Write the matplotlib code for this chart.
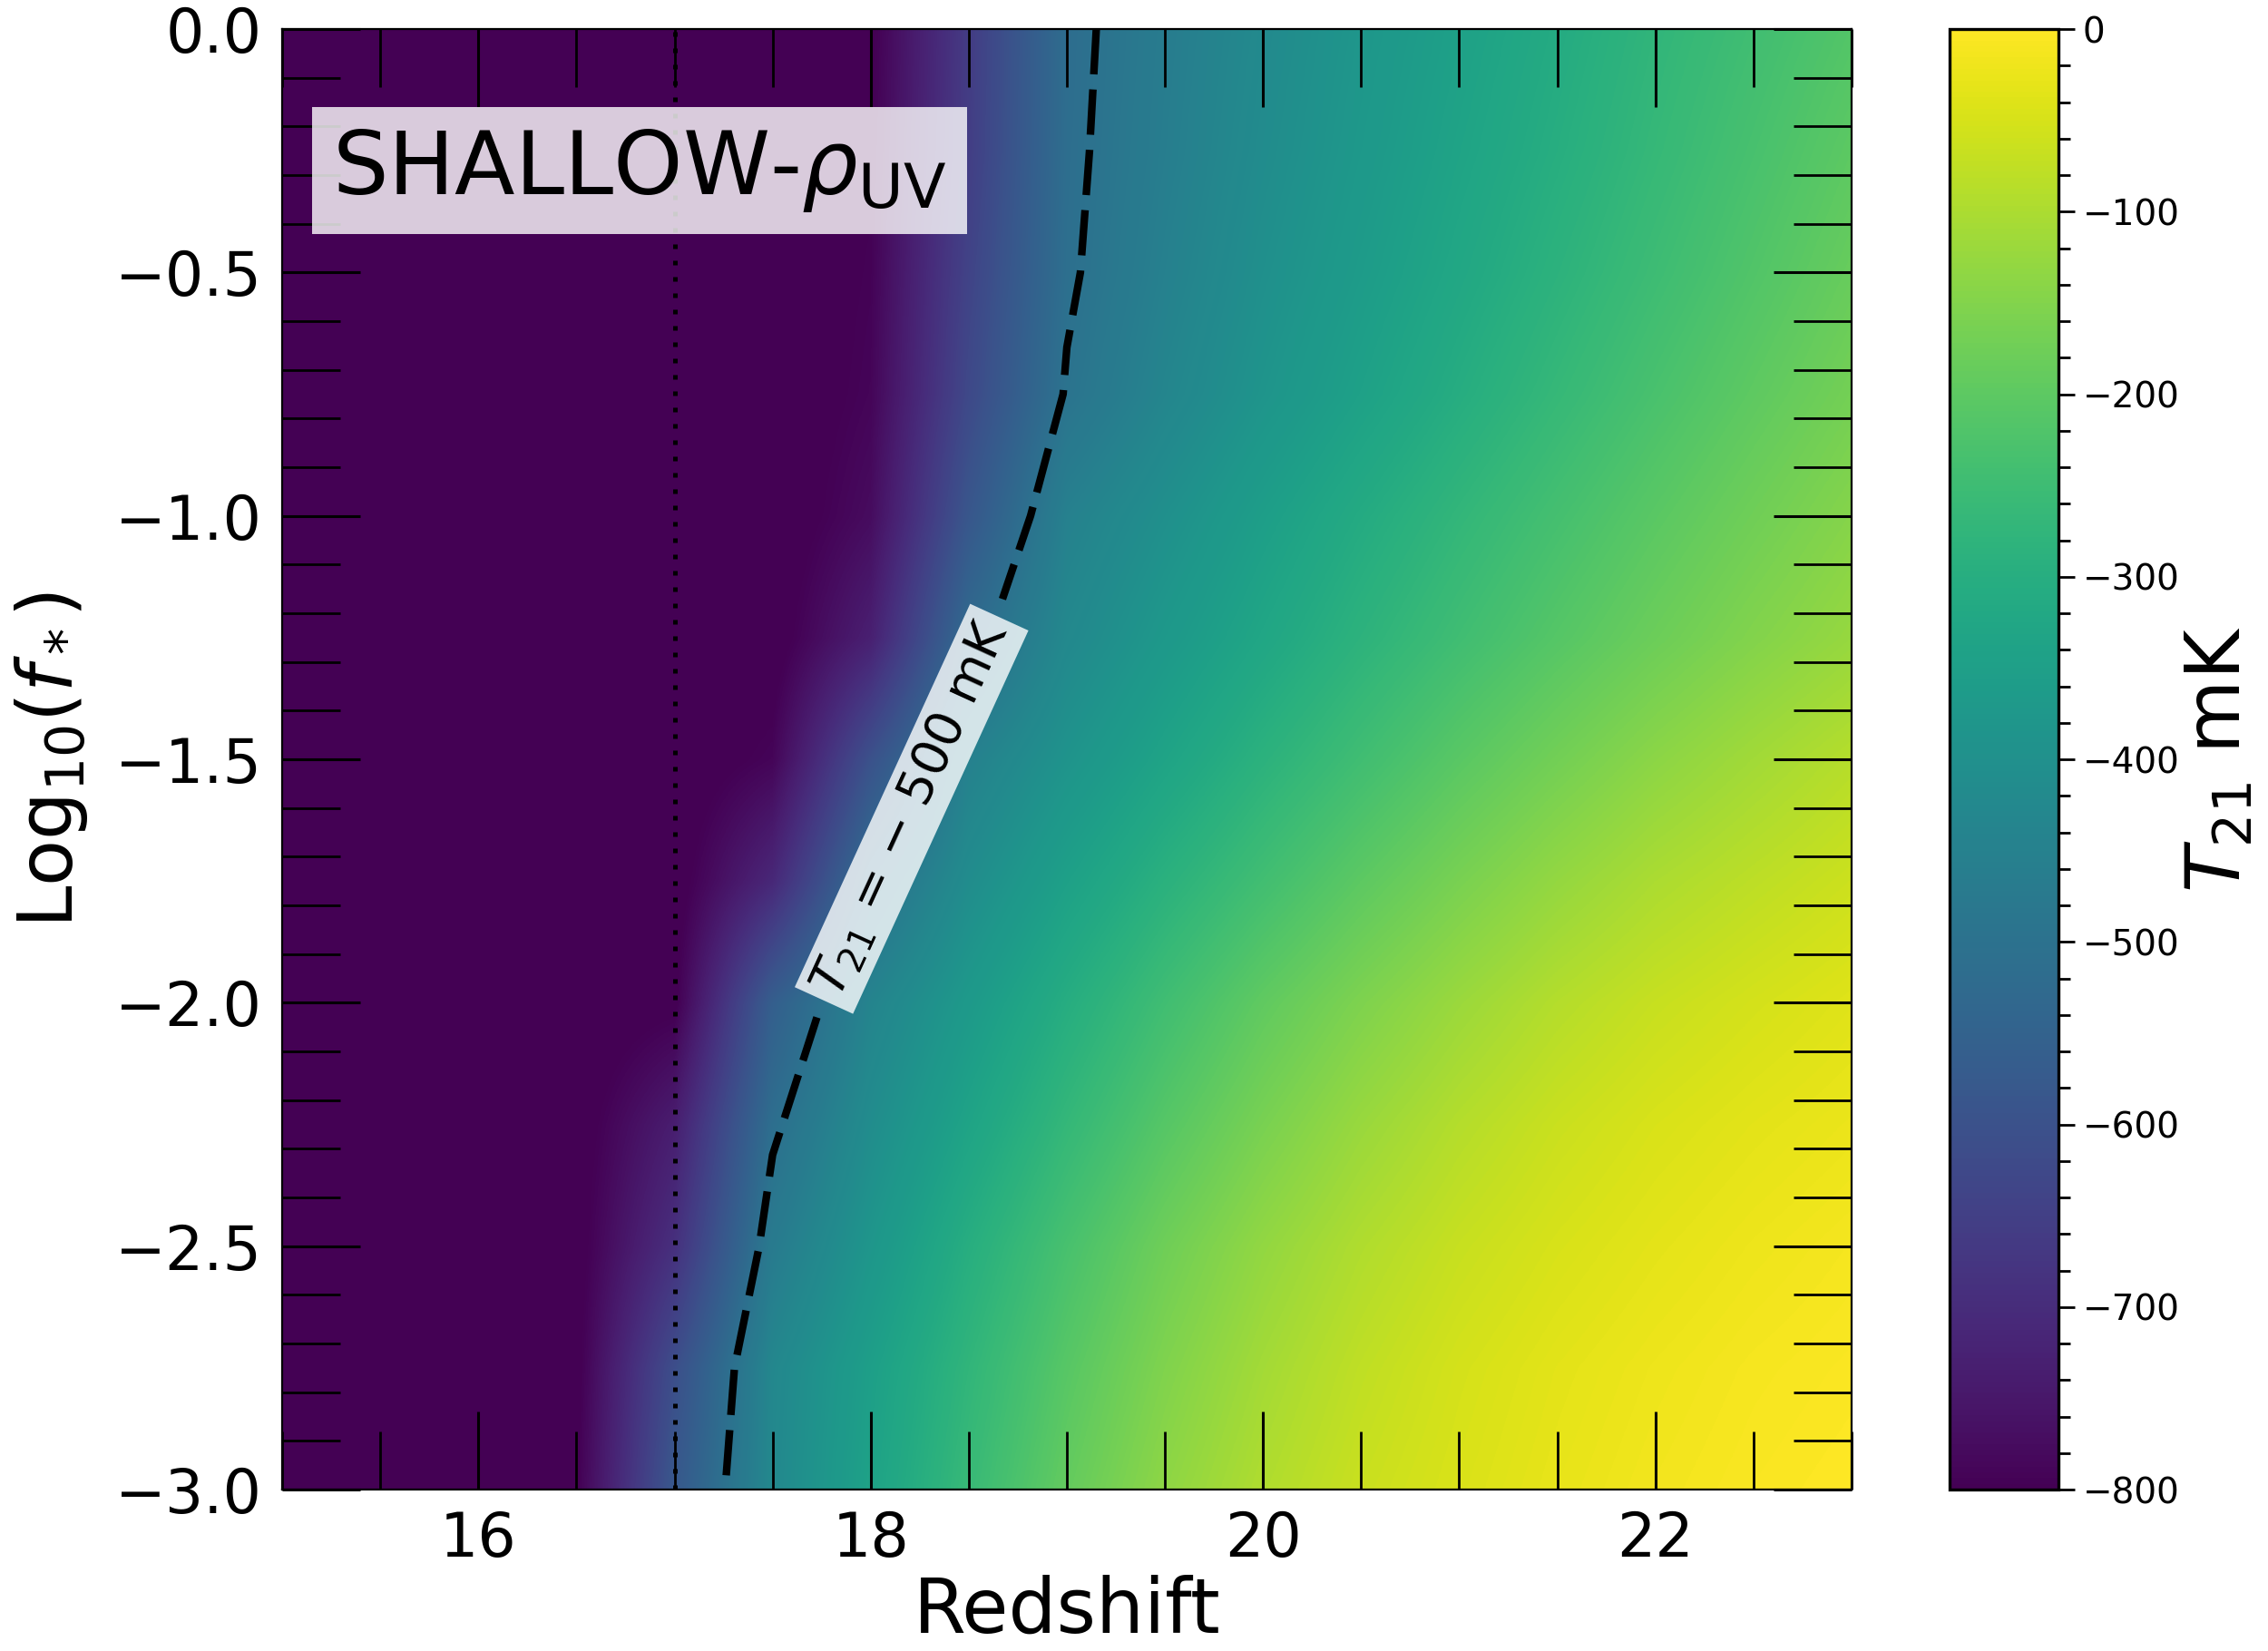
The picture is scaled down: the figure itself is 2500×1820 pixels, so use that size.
import numpy as np
import matplotlib
matplotlib.use("Agg")
import matplotlib.pyplot as plt
from matplotlib.ticker import MultipleLocator

# grid nodes
redshift = [15, 15.5, 16, 16.5, 17, 17.5, 18, 18.5, 19, 19.5, 20, 20.5, 21, 21.5, 22, 22.5, 23]
log_fstar = [-3.0, -2.75, -2.5, -2.25, -2.0, -1.75, -1.5, -1.25, -1.0, -0.75, -0.5, -0.25, 0.0]

# T21 [mK] per log10(f*) row (bottom to top), one value per redshift node
t21_m300 = [-820, -820, -820, -802, -580, -425, -340, -260, -190, -135, -95, -65, -45, -28, -15, -6, 0]
t21_m275 = [-820, -820, -820, -808, -610, -430, -350, -275, -208, -153, -110, -77, -52, -34, -21, -11, -5]
t21_m250 = [-820, -820, -820, -812, -690, -470, -380, -300, -232, -175, -130, -95, -68, -48, -33, -21, -12]
t21_m225 = [-820, -820, -820, -815, -735, -510, -410, -335, -268, -210, -162, -122, -90, -65, -47, -34, -24]
t21_m200 = [-820, -820, -820, -820, -805, -560, -440, -368, -303, -245, -195, -155, -120, -90, -68, -52, -38]
t21_m175 = [-820, -820, -820, -820, -815, -710, -505, -410, -345, -290, -243, -200, -162, -128, -100, -80, -62]
t21_m150 = [-820, -820, -820, -820, -820, -790, -600, -450, -388, -335, -287, -245, -205, -170, -138, -112, -88]
t21_m125 = [-820, -820, -820, -820, -820, -815, -730, -520, -425, -372, -326, -284, -246, -211, -179, -150, -125]
t21_m100 = [-820, -820, -820, -820, -820, -820, -775, -585, -450, -400, -352, -310, -272, -237, -204, -174, -146]
t21_m075 = [-820, -820, -820, -820, -820, -820, -790, -625, -495, -435, -385, -343, -303, -265, -230, -198, -168]
t21_m050 = [-820, -820, -820, -820, -820, -820, -795, -640, -508, -450, -400, -360, -322, -285, -250, -217, -185]
t21_m025 = [-820, -820, -820, -820, -820, -820, -800, -655, -512, -460, -412, -372, -335, -300, -265, -232, -200]
t21_m000 = [-820, -820, -820, -820, -820, -820, -805, -660, -515, -465, -420, -380, -345, -310, -275, -245, -215]

contour_level = -500
z_marker = 17

T = np.array([t21_m300, t21_m275, t21_m250, t21_m225, t21_m200, t21_m175, t21_m150,
              t21_m125, t21_m100, t21_m075, t21_m050, t21_m025, t21_m000])

fig = plt.figure(figsize=(12.5, 9.1), dpi=200)
ax = fig.add_axes([0.1244, 0.0978, 0.692, 0.8846])
cax = fig.add_axes([0.8596, 0.0978, 0.048, 0.8846])

dz = (redshift[1] - redshift[0]) / 2
dy = (log_fstar[1] - log_fstar[0]) / 2
img = ax.imshow(T, origin='lower', cmap='viridis', vmin=-800, vmax=0,
                extent=[redshift[0] - dz, redshift[-1] + dz, log_fstar[0] - dy, log_fstar[-1] + dy],
                aspect='auto', interpolation='bilinear', interpolation_stage='data')

cs = ax.contour(redshift, log_fstar, T, levels=[contour_level], colors='k',
                linewidths=3, linestyles=[(0, (6, 2))])
labels = ax.clabel(cs, fmt={contour_level: r'$T_{21}$ = $-$ 500 mK'},
                   fontsize=20, inline=True, inline_spacing=10,
                   manual=[(18.2, -1.6)])
for t in labels:
    t.set_bbox(dict(facecolor='white', alpha=0.8, edgecolor='none', pad=3))

ax.axvline(z_marker, color='k', linestyle=(0, (1, 2.6)), lw=1.8)

ax.text(0.032, 0.933, r'SHALLOW-$\rho_{\rm UV}$', transform=ax.transAxes,
        fontsize=35, va='top', ha='left',
        bbox=dict(facecolor='white', alpha=0.8, edgecolor='none', pad=8))

ax.set_xlim(15, 23)
ax.set_ylim(-3, 0)
ax.xaxis.set_major_locator(MultipleLocator(2))
ax.xaxis.set_minor_locator(MultipleLocator(0.5))
ax.yaxis.set_major_locator(MultipleLocator(0.5))
ax.yaxis.set_minor_locator(MultipleLocator(0.1))
ax.tick_params(which='both', direction='in', top=True, right=True,
               labelsize=24, pad=8)
ax.tick_params(which='major', length=31, width=1.1)
ax.tick_params(which='minor', length=23, width=1.0)
ax.set_xlabel('Redshift', fontsize=30, labelpad=2)
ax.set_ylabel(r'Log$_{10}$($f_*$)', fontsize=30, labelpad=10)

cb = fig.colorbar(img, cax=cax)
cb.set_ticks(np.arange(-800, 1, 100))
cb.ax.yaxis.set_minor_locator(MultipleLocator(20))
cb.ax.tick_params(which='major', length=6.5, width=1.0, labelsize=14, pad=3)
cb.ax.tick_params(which='minor', length=4.5, width=1.0)
cb.outline.set_linewidth(1.2)
cb.set_label(r'$T_{21}$ mK', fontsize=30, labelpad=1)

fig.savefig('out.png', dpi=200)
